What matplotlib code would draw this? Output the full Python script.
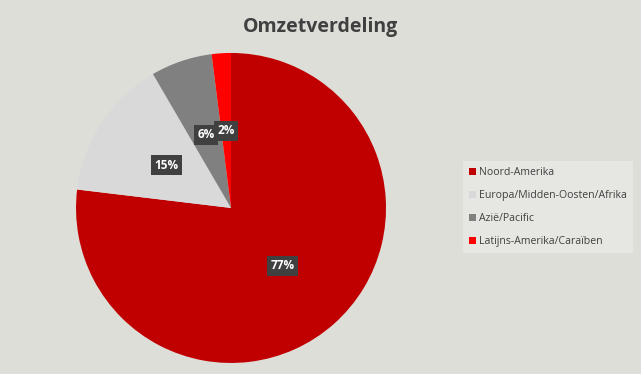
import matplotlib
matplotlib.use("Agg")
import matplotlib.pyplot as plt
from matplotlib.patches import Patch

plt.rcParams['font.family'] = ['Open Sans', 'DejaVu Sans']

categories = ["Noord-Amerika", "Europa/Midden-Oosten/Afrika", "Azië/Pacific", "Latijns-Amerika/Caraïben"]
values = [76.9, 14.7, 6.4, 2.0]
colors = ["#C00000", "#D9D9D9", "#808080", "#FF0000"]
title = "Omzetverdeling"

bg = "#DEDED9"
fig = plt.figure(figsize=(6.41, 3.74), dpi=100, facecolor=bg)
ax = fig.add_axes([0.1186, 0.0295, 0.4836, 0.8289])
ax.set_facecolor(bg)

wedges, texts, autotexts = ax.pie(
    values, colors=colors, startangle=90, counterclock=False,
    autopct=lambda p: f"{p:.0f}%", pctdistance=0.5,
    wedgeprops=dict(linewidth=0),
    textprops=dict(color="white", fontsize=8.5, fontweight="bold"),
)
for t in autotexts:
    t.set_bbox(dict(boxstyle="square,pad=0.3", facecolor="#404040", edgecolor="none"))
ax.set_aspect("auto")
ax.set_xlim(-1, 1)
ax.set_ylim(-1, 1)
ax.axis("off")

fig.text(0.5005, 0.928, title, ha="center", va="center", fontsize=14,
         fontweight="bold", color="#404040")

handles = [Patch(facecolor=c, edgecolor="none") for c in colors]
leg = fig.legend(handles, categories, loc="center left",
                 bbox_to_anchor=(0.722, 0.4465), frameon=True, fontsize=7.6,
                 handlelength=0.65, handleheight=0.65, handletextpad=0.3,
                 labelspacing=1.12, borderpad=0.6, borderaxespad=0, fancybox=False,
                 labelcolor="#404040")
leg.get_frame().set_facecolor("#E6E6E3")
leg.get_frame().set_edgecolor("none")
leg.get_frame().set_alpha(1)

fig.savefig("out.png", dpi=100, facecolor=bg)
